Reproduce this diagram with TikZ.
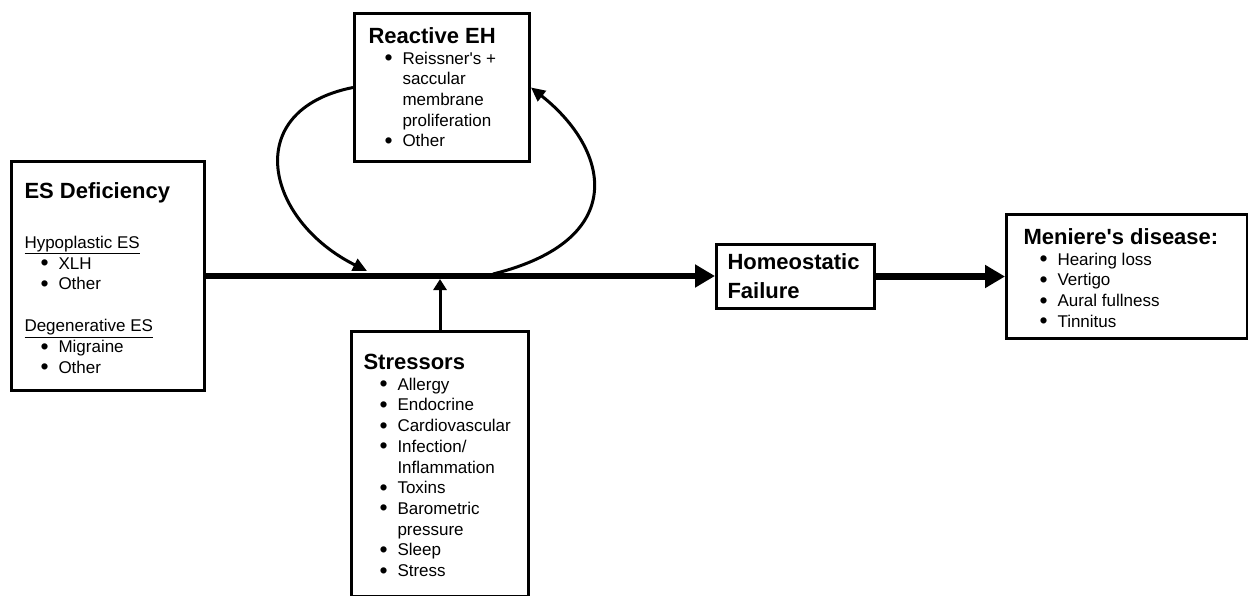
\documentclass[tikz,border=0pt]{standalone}
\usepackage{fontspec}
\setmainfont{Liberation Sans}
\usetikzlibrary{
    arrows.meta,
    positioning
}
\newcommand\headfont{\fontsize{22}{26}\selectfont\bfseries}
\newcommand\bodyfont{\normalfont\fontsize{17}{20.7}\selectfont}
\newcommand\itm[1]{\par\noindent\hangindent=34pt\hangafter=1\hspace*{16pt}\makebox[18pt][l]{\raisebox{-1.5pt}{\scalebox{1.35}{\textbullet}}}#1\par}
\newcommand\boxbody[3]{\begin{minipage}[t][#2][t]{#1}\raggedright #3\end{minipage}}
\tikzset{
    panel/.style = {
        draw,
        line width=3pt,
        inner ysep=0pt,
        inner xsep=#1,
        anchor=north west
    },
    panel/.default = 13pt,
    thickarrow/.style = {
        line width=6pt,
        -{Triangle[length=20pt,width=22pt]}
    },
    fbarrow/.style = {
        line width=3pt,
        -{Triangle[length=14pt,width=13pt]}
    },
    stressarrow/.style = {
        line width=3pt,
        -{Triangle[length=11pt,width=13pt]},
        shorten >=3pt
    }
}

\begin{document}
\begin{tikzpicture}[x=1pt,y=-1pt]
\useasboundingbox (0,0) rectangle (1248,596);

\node[panel=13pt] (esd) at (10,160) {\boxbody{167pt}{229pt}{%
    \headfont\rule{0pt}{37pt}ES Deficiency\par
    \vspace{29.3pt}\bodyfont
    \underline{Hypoplastic ES}\par
    \itm{XLH}\itm{Other}
    \vspace{21.3pt}
    \underline{Degenerative ES}\par
    \itm{Migraine}\itm{Other}}};

\node[panel=14pt] (reh) at (353,12) {\boxbody{147pt}{148pt}{%
    \headfont\rule{0pt}{30pt}Reactive EH\par\bodyfont
    \itm{Reissner\textquotesingle s +\newline saccular\newline membrane\newline proliferation}
    \itm{Other}}};

\node[panel=12pt] (str) at (350,330) {\boxbody{153pt}{265pt}{%
    \headfont\rule{0pt}{38pt}Stressors\par\bodyfont
    \itm{Allergy}\itm{Endocrine}\itm{Cardiovascular}
    \itm{Infection/\newline Inflammation}\itm{Toxins}
    \itm{Barometric\newline pressure}\itm{Sleep}\itm{Stress}}};

\node[panel=11pt] (hf) at (715,243) {\boxbody{136pt}{64pt}{%
    \headfont\fontsize{22}{29}\selectfont
    \rule{0pt}{25pt}Homeostatic\\Failure}};

\node[panel=17pt] (md) at (1005,213) {\boxbody{207pt}{124pt}{%
    \headfont\rule{0pt}{30pt}Meniere\textquotesingle s disease:\par\bodyfont
    \itm{Hearing loss}\itm{Vertigo}\itm{Aural fullness}\itm{Tinnitus}}};

\coordinate (j1) at (367,271);
\coordinate (j2) at (493,274);

\draw[thickarrow] (esd.east) -- (esd.east -| hf.west);
\draw[thickarrow] (hf.east) -- (md.west);
\draw[stressarrow] (str.north) -- (str.north |- esd.east);
\draw[fbarrow] (reh.west) .. controls (240,110) and (265,220) .. (j1);
\draw[fbarrow] (j2) .. controls (630,240) and (610,150) .. (reh.east);
\end{tikzpicture}
\end{document}
